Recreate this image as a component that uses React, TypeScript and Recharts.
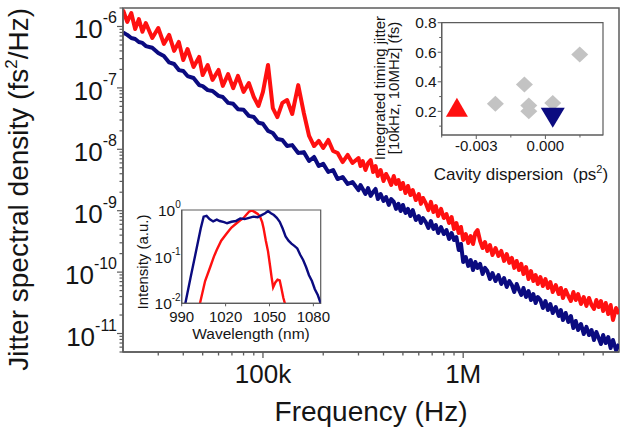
import React from 'react';
import {
  LineChart,
  Line,
  XAxis,
  YAxis,
  ReferenceArea,
  ScatterChart,
  Scatter,
} from 'recharts';

const FONT = 'Arial, "Liberation Sans", Helvetica, sans-serif';
const RED = '#ff1010';
const NAVY = '#0b0b80';
const AXIS = '#5c5c5c';
const INK = '#151515';

// ---------- Main panel: timing-jitter power spectral density ----------
const freqHz = [
  20000, 21000, 22000, 23000, 24000, 25000, 26000, 28000, 30000, 32000, 34000,
  36000, 38000, 40000, 42000, 45000, 48000, 50000, 53000, 56000, 60000, 63000,
  67000, 71000, 75000, 80000, 85000, 90000, 95000, 100000, 106000, 112000,
  118000, 125000, 132000, 140000, 150000, 160000, 170000, 180000, 190000,
  200000, 212000, 224000, 236000, 250000, 265000, 280000,
  300000, 307000, 315000, 325000, 335000, 345000, 355000, 365000, 375000,
  387000, 400000, 412000, 425000, 437000, 450000, 462000, 475000, 487000,
  500000, 515000, 530000, 545000, 560000, 580000, 600000, 615000, 630000,
  650000, 670000, 690000, 710000, 730000, 750000, 775000, 800000, 825000,
  850000, 875000, 900000, 925000, 950000, 975000, 1000000, 1030000, 1060000,
  1090000, 1120000, 1150000, 1180000, 1215000, 1250000, 1285000, 1320000,
  1360000, 1400000, 1450000, 1500000, 1550000, 1600000, 1650000, 1700000,
  1750000, 1800000, 1850000, 1900000, 1950000, 2000000, 2060000, 2120000,
  2180000, 2240000, 2300000, 2360000, 2430000, 2500000, 2575000, 2650000,
  2725000, 2800000, 2900000, 3000000, 3075000, 3150000, 3250000, 3350000,
  3450000, 3550000, 3650000, 3750000, 3875000, 4000000, 4125000, 4250000,
  4375000, 4500000, 4625000, 4750000, 4875000, 5000000, 5150000, 5300000,
  5450000, 5600000, 5800000, 6000000,
];

// red trace (fs^2/Hz)
const psdRed = [
  1.86e-6, 1.19e-6, 1.66e-6, 9.1e-7, 1.32e-6, 8.2e-7, 1.14e-6, 6.5e-7, 9.45e-7,
  5.2e-7, 7.3e-7, 4.0e-7, 5.6e-7, 2.85e-7, 4.3e-7, 2.19e-7, 3.19e-7, 1.62e-7,
  2.36e-7, 1.35e-7, 1.96e-7, 1.08e-7, 1.68e-7, 9.9e-8, 1.57e-7, 8.6e-8, 1.2e-7,
  7.1e-8, 5.07e-8, 8.6e-8, 2.36e-7, 4.7e-8, 3.35e-8, 5.7e-8, 6.35e-8, 3.76e-8,
  1.11e-7, 3.9e-8, 1.65e-8, 1.13e-8, 1.37e-8, 1.05e-8, 1.42e-8, 9.4e-9, 8.7e-9,
  6.2e-9, 8.1e-9, 5.98e-9,
  7.21e-9, 5.34e-9, 6.45e-9, 4.6e-9, 5.98e-9, 6.69e-9, 4.27e-9, 5.34e-9, 3.67e-9, 4.6e-9,
  3.05e-9, 3.96e-9, 3.28e-9, 2.62e-9, 3.67e-9, 2.72e-9, 3.16e-9, 2.26e-9, 2.83e-9, 1.94e-9,
  2.53e-9, 1.8e-9, 2.17e-9, 1.49e-9, 1.87e-9, 1.29e-9, 1.61e-9, 1.33e-9, 1.02e-9, 1.39e-9,
  9.52e-10, 1.19e-9, 8.2e-10, 1.07e-9, 7.6e-10, 8.83e-10, 6.3e-10, 7.89e-10, 5.03e-10, 6.3e-10,
  4.33e-10, 5.43e-10, 3.33e-10, 4.17e-10, 2.98e-10, 3.87e-10, 2.87e-10, 4.33e-10, 4.85e-10, 3.21e-10,
  2.47e-10, 3.09e-10, 2.21e-10, 2.76e-10, 1.9e-10, 2.47e-10, 1.83e-10, 2.21e-10, 1.52e-10, 1.97e-10,
  1.41e-10, 1.7e-10, 1.17e-10, 1.52e-10, 1.08e-10, 1.36e-10, 9.31e-11, 1.21e-10, 7.72e-11, 1.04e-10,
  7.16e-11, 8.97e-11, 6.4e-11, 8.32e-11, 5.94e-11, 7.72e-11, 5.51e-11, 6.9e-11, 4.74e-11, 6.16e-11,
  4.4e-11, 5.51e-11, 3.79e-11, 5.11e-11, 4.08e-11, 3.38e-11, 4.74e-11, 3.51e-11, 4.4e-11, 3.02e-11,
  3.93e-11, 2.81e-11, 3.79e-11, 2.91e-11, 2.51e-11, 3.51e-11, 2.7e-11, 3.38e-11, 2.33e-11, 3.14e-11,
  2.08e-11, 2.91e-11, 1.66e-11, 2.6e-11, 2.08e-11,
];

// navy trace (fs^2/Hz)
const psdBlue = [
  8.0e-7, 7.3e-7, 6.5e-7, 6.25e-7, 5.6e-7, 5.4e-7, 4.8e-7, 4.5e-7, 3.7e-7,
  3.3e-7, 2.6e-7, 2.45e-7, 1.95e-7, 1.88e-7, 1.56e-7, 1.45e-7, 1.11e-7, 1.07e-7,
  9.2e-8, 8.9e-8, 7.4e-8, 7.1e-8, 5.7e-8, 5.5e-8, 4.5e-8, 4.4e-8, 3.5e-8,
  3.35e-8, 2.7e-8, 2.6e-8, 1.99e-8, 1.84e-8, 1.47e-8, 1.42e-8, 1.13e-8, 1.17e-8,
  8.7e-9, 9.0e-9, 6.45e-9, 7.5e-9, 5.35e-9, 5.8e-9, 4.27e-9, 4.6e-9, 3.28e-9,
  3.54e-9, 2.72e-9, 2.93e-9,
  2.17e-9, 2.62e-9, 2.26e-9, 1.87e-9, 2.34e-9, 1.74e-9, 2.02e-9, 2.26e-9, 1.55e-9, 1.87e-9,
  1.44e-9, 1.67e-9, 1.24e-9, 1.55e-9, 1.39e-9, 1.07e-9, 1.29e-9, 9.89e-10, 1.24e-9, 9.17e-10,
  1.07e-9, 8.2e-10, 1.02e-9, 7.05e-10, 8.2e-10, 6.3e-10, 7.6e-10, 6.54e-10, 5.23e-10, 6.79e-10,
  5.03e-10, 5.85e-10, 4.33e-10, 5.43e-10, 4.17e-10, 4.85e-10, 3.46e-10, 4.33e-10, 3.33e-10, 3.73e-10,
  2.29e-10, 2.87e-10, 1.46e-10, 1.76e-10, 1.26e-10, 1.57e-10, 1.08e-10, 1.46e-10, 1.17e-10, 1.36e-10,
  9.31e-11, 1.17e-10, 1.04e-10, 7.72e-11, 9.67e-11, 7.16e-11, 8.97e-11, 6.4e-11, 8.01e-11, 5.72e-11,
  7.16e-11, 6.16e-11, 4.74e-11, 6.4e-11, 5.11e-11, 4.24e-11, 5.51e-11, 3.93e-11, 4.92e-11, 3.51e-11,
  4.4e-11, 3.14e-11, 3.93e-11, 3.51e-11, 2.6e-11, 3.38e-11, 2.41e-11, 3.02e-11, 2.16e-11, 2.7e-11,
  1.93e-11, 2.41e-11, 1.66e-11, 2.16e-11, 1.54e-11, 1.93e-11, 1.23e-11, 1.6e-11, 1.14e-11, 1.43e-11,
  9.81e-12, 1.28e-11, 9.45e-12, 1.14e-11, 7.83e-12, 1.06e-11, 8.45e-12, 6.74e-12, 9.45e-12, 7.0e-12,
  8.77e-12, 5.8e-12, 7.83e-12, 5.38e-12, 6.74e-12,
];

const freqMajorTicks = [1e5, 1e6];
const freqMajorLabels = ['100k', '1M'];
const freqMinorTicks = [
  3e4, 4e4, 5e4, 6e4, 7e4, 8e4, 9e4, 2e5, 3e5, 4e5, 5e5, 6e5, 7e5, 8e5, 9e5,
  2e6, 3e6, 4e6, 5e6,
];
const psdDecades = [1e-12, 1e-11, 1e-10, 1e-9, 1e-8, 1e-7, 1e-6];
const psdMajorTicks = [1e-11, 1e-10, 1e-9, 1e-8, 1e-7, 1e-6];
const PSD_MIN = 5e-12;
const PSD_MAX = 2e-6;

const psdMinorTicks: number[] = [];
psdDecades.forEach((d) => {
  for (let m = 2; m <= 9; m++) {
    const v = m * d;
    if (v >= PSD_MIN * 0.999 && v <= PSD_MAX * 1.001) psdMinorTicks.push(v);
  }
});

const mainData = freqHz.map((f, i) => ({ f, red: psdRed[i], blue: psdBlue[i] }));

// ---------- Upper inset: integrated jitter vs cavity dispersion ----------
const dispersionRed = [-0.00384];
const jitterRed = [0.225];
const dispersionBlue = [0.00032];
const jitterBlue = [0.164];
const dispersionGray = [-0.00217, -0.00091, -0.00072, -0.00072, 0.00032, 0.00149];
const jitterGray = [0.252, 0.381, 0.239, 0.2, 0.256, 0.584];
const dispersionTicks = [-0.003, 0];
const dispersionMinorTicks = [-0.0045, -0.0015, 0.0015];
const jitterTicks = [0.2, 0.4, 0.6, 0.8];
const jitterMinorTicks = [0.1, 0.3, 0.5, 0.7];

const ptsRed = dispersionRed.map((x, i) => ({ x, y: jitterRed[i] }));
const ptsBlue = dispersionBlue.map((x, i) => ({ x, y: jitterBlue[i] }));
const ptsGray = dispersionGray.map((x, i) => ({ x, y: jitterGray[i] }));

// ---------- Lower inset: optical spectra ----------
const wavelengthBlue = [
  992.5, 996, 1000, 1003, 1005, 1007, 1009, 1011.5, 1014, 1016, 1019, 1021,
  1024, 1027, 1030, 1033, 1036, 1039, 1042, 1044, 1047, 1049, 1051, 1053, 1055,
  1057, 1059, 1061, 1063, 1065, 1067, 1069, 1071, 1073, 1075, 1077, 1079, 1081,
  1083, 1085,
];
const intensityBlue = [
  0.01, 0.035, 0.14, 0.4, 0.72, 0.75, 0.64, 0.57, 0.62, 0.58, 0.55, 0.52, 0.56,
  0.58, 0.66, 0.64, 0.68, 0.72, 0.7, 0.76, 0.85, 0.95, 0.85, 0.78, 0.68, 0.56,
  0.4, 0.27, 0.22, 0.19, 0.17, 0.15, 0.11, 0.085, 0.06, 0.04, 0.03, 0.02, 0.015,
  0.01,
];
const wavelengthRed = [
  1002.5, 1006, 1009.5, 1012, 1014, 1017, 1021, 1024, 1027.5, 1030, 1032, 1034,
  1036, 1038, 1040, 1042, 1043.5, 1045, 1046, 1047.5, 1049, 1050.5, 1051.5,
  1052.5, 1054, 1055.5, 1057, 1058, 1059.5, 1060.5,
];
const intensityRed = [
  0.01, 0.03, 0.06, 0.1, 0.14, 0.22, 0.32, 0.42, 0.52, 0.6, 0.66, 0.78, 0.92,
  0.98, 0.9, 0.82, 0.72, 0.55, 0.4, 0.22, 0.13, 0.06, 0.035, 0.022, 0.028,
  0.032, 0.031, 0.022, 0.013, 0.01,
];
const wavelengthTicks = [990, 1020, 1050, 1080];
const intensityTicks = [0.01, 0.1, 1];

const specBlue = wavelengthBlue.map((wl, i) => ({ wl, v: intensityBlue[i] }));
const specRed = wavelengthRed.map((wl, i) => ({ wl, v: intensityRed[i] }));

// ---------- tick renderers ----------
function FreqTick(props: any) {
  const { x, y, payload } = props;
  const idx = freqMajorTicks.indexOf(payload.value);
  const major = idx >= 0;
  return (
    <g>
      <line x1={x} x2={x} y1={y} y2={y + (major ? 6 : 3.5)} stroke={AXIS} strokeWidth={1.3} />
      {major && (
        <text x={x} y={y + 31} textAnchor="middle" fontSize={26} fill={INK} fontFamily={FONT}>
          {freqMajorLabels[idx]}
        </text>
      )}
    </g>
  );
}

function PsdTick(props: any) {
  const { x, y, payload } = props;
  const e = Math.log10(payload.value);
  const major = Math.abs(e - Math.round(e)) < 1e-6;
  return (
    <g>
      <line x1={x - (major ? 6 : 3.5)} x2={x} y1={y} y2={y} stroke={AXIS} strokeWidth={1.2} />
      {major && (
        <text x={x - 6} y={y + 12} textAnchor="end" fill={INK} fontFamily={FONT}>
          <tspan fontSize={26}>10</tspan>
          <tspan fontSize={16} dy={-15}>{Math.round(e)}</tspan>
        </text>
      )}
    </g>
  );
}

function DispTick(props: any) {
  const { x, y, payload } = props;
  const major = dispersionTicks.some((t) => Math.abs(t - payload.value) < 1e-9);
  return (
    <g>
      <line x1={x} x2={x} y1={y} y2={y + (major ? 4 : 2.5)} stroke={AXIS} strokeWidth={1} />
      {major && (
        <text x={x} y={y + 15.5} textAnchor="middle" fontSize={15} fill={INK} fontFamily={FONT}>
          {payload.value.toFixed(3)}
        </text>
      )}
    </g>
  );
}

function JitterTick(props: any) {
  const { x, y, payload } = props;
  const major = jitterTicks.some((t) => Math.abs(t - payload.value) < 1e-9);
  return (
    <g>
      <line x1={x - (major ? 4 : 2.5)} x2={x} y1={y} y2={y} stroke={AXIS} strokeWidth={1} />
      {major && (
        <text x={x - 5} y={y + 5.5} textAnchor="end" fontSize={15.5} fill={INK} fontFamily={FONT}>
          {payload.value.toFixed(1)}
        </text>
      )}
    </g>
  );
}

function WlTick(props: any) {
  const { x, y, payload } = props;
  return (
    <g>
      <line x1={x} x2={x} y1={y} y2={y + 3} stroke={AXIS} strokeWidth={1} />
      <text x={x} y={y + 19} textAnchor="middle" fontSize={15} fill={INK} fontFamily={FONT}>
        {payload.value}
      </text>
    </g>
  );
}

function IntTick(props: any) {
  const { x, y, payload } = props;
  const e = Math.round(Math.log10(payload.value));
  return (
    <text x={x - 1} y={y + 6} textAnchor="end" fill={INK} fontFamily={FONT}>
      <tspan fontSize={15.5}>10</tspan>
      <tspan fontSize={10} dy={-8}>{e}</tspan>
    </text>
  );
}

// ---------- scatter marker shapes ----------
const TriUp = (p: any) => (
  <polygon
    points={`${p.cx},${p.cy - 10} ${p.cx + 11},${p.cy + 9} ${p.cx - 11},${p.cy + 9}`}
    fill={RED}
  />
);
const TriDown = (p: any) => (
  <polygon
    points={`${p.cx - 12},${p.cy - 9} ${p.cx + 12},${p.cy - 9} ${p.cx},${p.cy + 11}`}
    fill={NAVY}
  />
);
const Diamond = (p: any) => (
  <polygon
    points={`${p.cx},${p.cy - 8} ${p.cx + 8.5},${p.cy} ${p.cx},${p.cy + 8} ${p.cx - 8.5},${p.cy}`}
    fill="#c3c3c3"
  />
);

export default function App() {
  return (
    <div
      style={{
        position: 'absolute',
        left: 0,
        top: 0,
        width: 630,
        height: 434,
        background: '#ffffff',
        fontFamily: FONT,
        overflow: 'hidden',
      }}
    >
      {/* main spectra */}
      <div style={{ position: 'absolute', left: 0, top: 0 }}>
        <LineChart width={630} height={434} data={mainData} margin={{ top: 8, right: 11, bottom: 0, left: 0 }}>
          <XAxis
            dataKey="f"
            type="number"
            scale="log"
            domain={[2e4, 6e6]}
            allowDataOverflow
            ticks={[...freqMinorTicks, ...freqMajorTicks]}
            interval={0}
            tick={<FreqTick />}
            tickLine={false}
            tickSize={0}
            tickMargin={0}
            height={82}
            axisLine={{ stroke: AXIS, strokeWidth: 1.5 }}
          />
          <YAxis
            type="number"
            scale="log"
            domain={[PSD_MIN, PSD_MAX]}
            allowDataOverflow
            ticks={[...psdMinorTicks, ...psdMajorTicks]}
            interval={0}
            tick={<PsdTick />}
            tickLine={false}
            tickSize={0}
            tickMargin={0}
            width={123}
            axisLine={{ stroke: AXIS, strokeWidth: 1.5 }}
          />
          <ReferenceArea x1={2e4} x2={6e6} y1={PSD_MIN} y2={PSD_MAX} fill="none" stroke={AXIS} strokeWidth={1.5} />
          <Line dataKey="red" stroke={RED} strokeWidth={4} dot={false} isAnimationActive={false} strokeLinejoin="round" />
          <Line dataKey="blue" stroke={NAVY} strokeWidth={4} dot={false} isAnimationActive={false} strokeLinejoin="round" />
        </LineChart>
      </div>

      {/* dispersion inset */}
      <div style={{ position: 'absolute', left: 360, top: 0 }}>
        <ScatterChart width={270} height={200} margin={{ top: 22.7, right: 27, bottom: 0, left: 0 }}>
          <XAxis
            dataKey="x"
            type="number"
            domain={[-0.0045, 0.0025]}
            allowDataOverflow
            ticks={[...dispersionMinorTicks, ...dispersionTicks]}
            interval={0}
            tick={<DispTick />}
            tickLine={false}
            tickSize={0}
            tickMargin={0}
            height={65}
            axisLine={{ stroke: AXIS, strokeWidth: 1.2 }}
          />
          <YAxis
            dataKey="y"
            type="number"
            domain={[0.04, 0.8]}
            allowDataOverflow
            ticks={[...jitterMinorTicks, ...jitterTicks]}
            interval={0}
            tick={<JitterTick />}
            tickLine={false}
            tickSize={0}
            tickMargin={0}
            width={81.7}
            axisLine={{ stroke: AXIS, strokeWidth: 1.2 }}
          />
          <ReferenceArea x1={-0.0045} x2={0.0025} y1={0.04} y2={0.8} fill="none" stroke={AXIS} strokeWidth={1.2} />
          <Scatter data={ptsGray} shape={Diamond} isAnimationActive={false} />
          <Scatter data={ptsRed} shape={TriUp} isAnimationActive={false} />
          <Scatter data={ptsBlue} shape={TriDown} isAnimationActive={false} />
        </ScatterChart>
      </div>

      {/* spectrum inset */}
      <div style={{ position: 'absolute', left: 100, top: 190 }}>
        <LineChart width={240} height={160} margin={{ top: 20, right: 19.3, bottom: 0, left: 0 }}>
          <XAxis
            dataKey="wl"
            type="number"
            domain={[990, 1085]}
            allowDataOverflow
            ticks={wavelengthTicks}
            interval={0}
            tick={<WlTick />}
            tickLine={false}
            tickSize={0}
            tickMargin={0}
            height={46.7}
            axisLine={{ stroke: AXIS, strokeWidth: 1.2 }}
          />
          <YAxis
            type="number"
            scale="log"
            domain={[0.01, 1]}
            allowDataOverflow
            ticks={intensityTicks}
            interval={0}
            tick={<IntTick />}
            tickLine={false}
            tickSize={0}
            tickMargin={0}
            width={81.7}
            axisLine={{ stroke: AXIS, strokeWidth: 1.2 }}
          />
          <ReferenceArea x1={990} x2={1085} y1={0.01} y2={1} fill="none" stroke={AXIS} strokeWidth={1.2} />
          <Line data={specRed} dataKey="v" stroke={RED} strokeWidth={2.4} dot={false} isAnimationActive={false} />
          <Line data={specBlue} dataKey="v" stroke={NAVY} strokeWidth={2.4} dot={false} isAnimationActive={false} />
        </LineChart>
      </div>

      {/* axis titles */}
      <svg width={630} height={434} style={{ position: 'absolute', left: 0, top: 0, pointerEvents: 'none' }}>
        <g fontFamily={FONT} fill={INK}>
          <text transform="translate(28,8) rotate(-90)" textAnchor="end" fontSize={28}>
            <tspan>{'Jitter spectral density (fs'}</tspan>
            <tspan fontSize={17} dy={-11}>2</tspan>
            <tspan dy={11}>/Hz)</tspan>
          </text>
          <text x={371} y={421} textAnchor="middle" fontSize={28}>
            Frequency (Hz)
          </text>

          <text transform="translate(385,88) rotate(-90)" textAnchor="middle" fontSize={15}>
            Integrated timing jitter
          </text>
          <text transform="translate(399,88) rotate(-90)" textAnchor="middle" fontSize={15}>
            [10kHz, 10MHz] (fs)
          </text>
          <text x={521} y={180} textAnchor="middle" fontSize={17}>
            <tspan>{'Cavity dispersion\u00a0 (ps'}</tspan>
            <tspan fontSize={11} dy={-7}>2</tspan>
            <tspan dy={7}>)</tspan>
          </text>

          <text transform="translate(148,262) rotate(-90)" textAnchor="middle" fontSize={15}>
            Intensity (a.u.)
          </text>
          <text x={251} y={338.5} textAnchor="middle" fontSize={15.5}>
            Wavelength (nm)
          </text>
        </g>
      </svg>
    </div>
  );
}
